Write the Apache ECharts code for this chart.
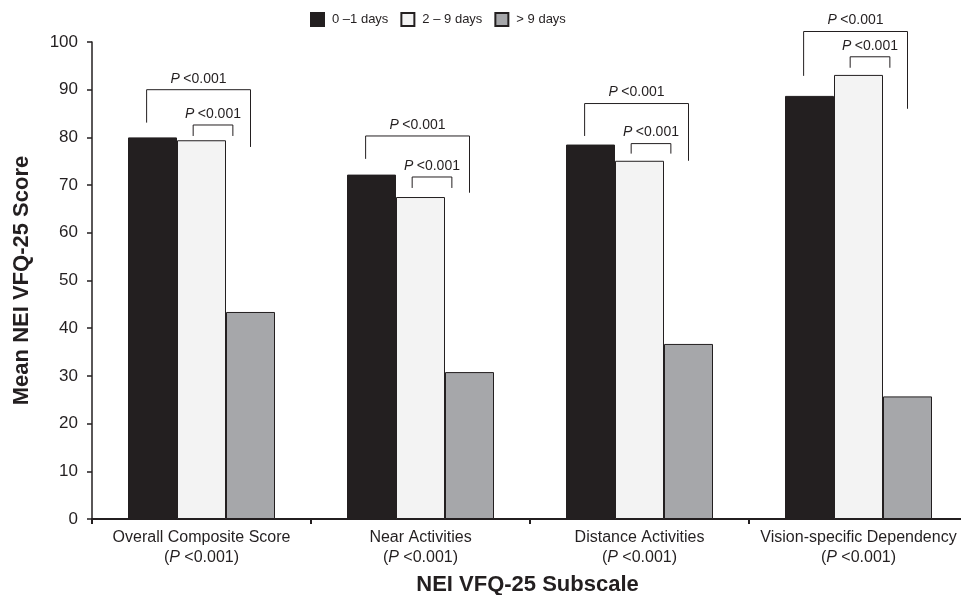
<!DOCTYPE html>
<html>
<head>
<meta charset="utf-8">
<script src="https://cdn.jsdelivr.net/npm/echarts@6/dist/echarts.min.js"></script>
<style>html,body{margin:0;padding:0;background:#fff;}#c{width:961px;height:595px;}</style>
</head>
<body>
<div id="c"></div>
<script>
// ---- data ----
var categories = ['Overall Composite Score', 'Near Activities', 'Distance Activities', 'Vision-specific Dependency'];
var categoryP = ['<0.001', '<0.001', '<0.001', '<0.001'];
var seriesNames = ['0 \u20131 days', '2 \u2013 9 days', '> 9 days'];
var days0to1 = [80.0, 72.2, 78.5, 88.7];
var days2to9 = [79.4, 67.5, 75.1, 93.1];
var daysOver9 = [43.4, 30.8, 36.7, 25.7];
var yTicks = [0, 10, 20, 30, 40, 50, 60, 70, 80, 90, 100];
// comparison brackets (values in score units)
var bigBracketTop = [90.0, 80.3, 87.1, 102.2];
var bigBracketLeftEnd = [83.1, 75.5, 80.3, 92.9];
var bigBracketRightEnd = [78.0, 68.4, 75.1, 86.0];
var bigBracketP = ['<0.001', '<0.001', '<0.001', '<0.001'];
var smallBracketTop = [82.6, 71.7, 78.7, 96.9];
var smallBracketEnd = [80.3, 69.4, 76.6, 94.6];
var smallBracketP = ['<0.001', '<0.001', '<0.001', '<0.001'];

// ---- styles ----
var INK = '#231f20';
var BAR_W = 49;
var colors = [INK, '#f3f3f3', '#a6a7aa'];
var FONT = 'Liberation Sans, Arial, sans-serif';

var bracketData = categories.map(function (c, i) {
  return [i, bigBracketTop[i], bigBracketLeftEnd[i], bigBracketRightEnd[i], smallBracketTop[i], smallBracketEnd[i]];
});

function pText(x, y, p) {
  return {
    type: 'text',
    style: {
      x: x, y: y,
      text: '{i|P} {n|' + p + '}',
      align: 'center', verticalAlign: 'bottom',
      fill: INK,
      rich: {
        i: { fontStyle: 'italic', fontSize: 14, fontFamily: FONT, fill: INK },
        n: { fontSize: 14, fontFamily: FONT, fill: INK }
      }
    }
  };
}

function renderBracket(params, api) {
  var idx = api.value(0);
  var cx = api.coord([idx, 0])[0];
  var yTop = api.coord([idx, api.value(1)])[1];
  var yL = api.coord([idx, api.value(2)])[1];
  var yR = api.coord([idx, api.value(3)])[1];
  var ySTop = api.coord([idx, api.value(4)])[1];
  var ySEnd = api.coord([idx, api.value(5)])[1];
  var bx1 = cx - 1.12 * BAR_W, bx2 = cx + 1.0 * BAR_W;
  var sx1 = cx - 0.17 * BAR_W, sx2 = cx + 0.64 * BAR_W;
  var lineStyle = { stroke: INK, lineWidth: 1, fill: null };
  return {
    type: 'group',
    children: [
      { type: 'polyline', shape: { points: [[bx1, yL], [bx1, yTop], [bx2, yTop], [bx2, yR]] }, style: lineStyle },
      { type: 'polyline', shape: { points: [[sx1, ySEnd], [sx1, ySTop], [sx2, ySTop], [sx2, ySEnd]] }, style: lineStyle },
      pText((bx1 + bx2) / 2, yTop - 4, bigBracketP[idx]),
      pText((sx1 + sx2) / 2, ySTop - 4, smallBracketP[idx])
    ]
  };
}

var chart = echarts.init(document.getElementById('c'), null, { renderer: 'canvas' });

function barSeries(name, data, color) {
  return {
    name: name,
    type: 'bar',
    data: data,
    barWidth: BAR_W,
    barGap: '0%',
    itemStyle: { color: color, borderColor: INK, borderWidth: 1 },
    emphasis: { disabled: true },
    animation: false
  };
}

chart.setOption({
  animation: false,
  textStyle: { fontFamily: FONT, color: INK },
  legend: {
    data: seriesNames,
    top: 7,
    left: 305,
    itemWidth: 13,
    itemHeight: 13,
    itemGap: 12,
    icon: 'rect',
    textStyle: { fontSize: 13, color: INK, fontFamily: FONT, padding: [0, 0, 0, 3] },
    selectedMode: false
  },
  grid: { left: 92, top: 42, width: 876, height: 477, containLabel: false, outerBoundsMode: 'none' },
  xAxis: {
    type: 'category',
    data: categories,
    boundaryGap: true,
    axisLine: { lineStyle: { color: INK, width: 2 } },
    axisTick: { show: true, length: 5, lineStyle: { color: INK, width: 2 }, alignWithLabel: false },
    axisLabel: {
      interval: 0,
      margin: 9,
      lineHeight: 20,
      formatter: function (v, i) {
        return '{n|' + v + '}\n{n|(}{i|P}{n| ' + categoryP[i] + ')}';
      },
      rich: {
        n: { fontSize: 16, fontFamily: FONT, color: INK, lineHeight: 20 },
        i: { fontSize: 16, fontFamily: FONT, color: INK, fontStyle: 'italic', lineHeight: 20 }
      }
    },
    name: 'NEI VFQ-25 Subscale',
    nameLocation: 'middle',
    nameGap: 55,
    nameTextStyle: { fontSize: 22, fontWeight: 'bold', color: INK, fontFamily: FONT, padding: [0, 5, 0, 0] }
  },
  yAxis: {
    type: 'value',
    min: yTicks[0],
    max: yTicks[yTicks.length - 1],
    interval: yTicks[1] - yTicks[0],
    splitLine: { show: false },
    axisLine: { show: true, lineStyle: { color: INK, width: 1.5 } },
    axisTick: { show: true, length: 5, lineStyle: { color: INK, width: 1.5 } },
    axisLabel: { fontSize: 17, color: INK, fontFamily: FONT, margin: 14 },
    name: 'Mean NEI VFQ-25 Score',
    nameLocation: 'middle',
    nameGap: 59,
    nameTextStyle: { fontSize: 22, fontWeight: 'bold', color: INK, fontFamily: FONT }
  },
  series: [
    barSeries(seriesNames[0], days0to1, colors[0]),
    barSeries(seriesNames[1], days2to9, colors[1]),
    barSeries(seriesNames[2], daysOver9, colors[2]),
    {
      type: 'custom',
      name: 'brackets',
      renderItem: renderBracket,
      data: bracketData,
      encode: { x: 0, y: 1 },
      clip: false,
      silent: true,
      z: 5
    }
  ]
});
</script>
</body>
</html>
